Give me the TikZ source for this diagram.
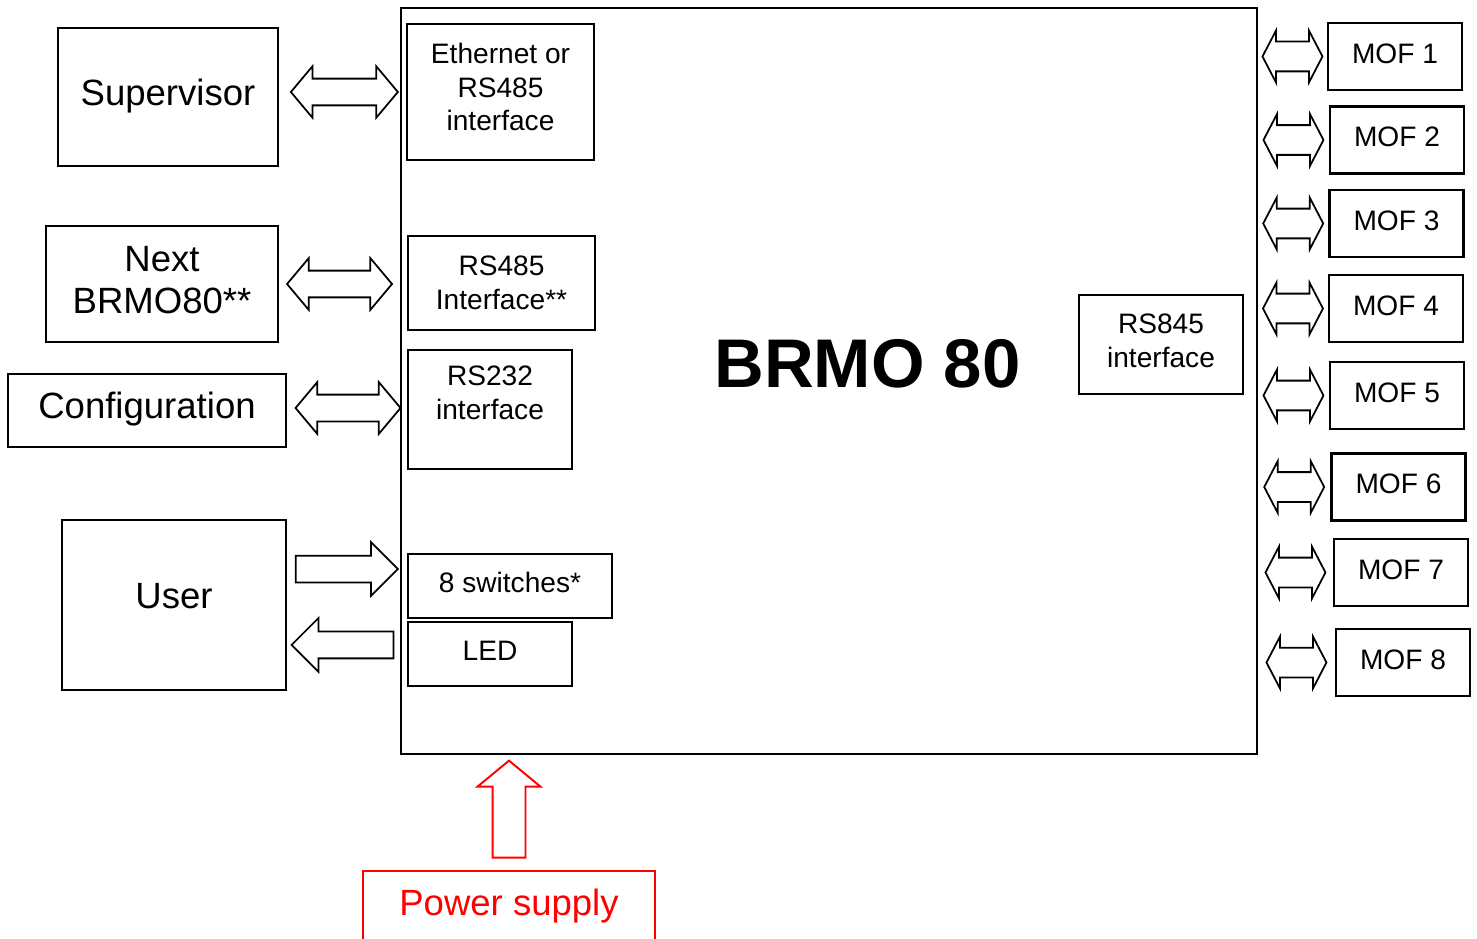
\documentclass[tikz,border=0pt]{standalone}
\usepackage{fontspec}
\setmainfont{Liberation Sans}
\usetikzlibrary{positioning,calc,shapes.arrows}
\definecolor{PSred}{HTML}{FF0000}
\tikzset{
  box/.style={draw, line width=1.2pt, align=center, inner sep=0pt},
  bigfont/.style={font=\fontsize{20.8}{24}\selectfont},
  smallfont/.style={font=\fontsize{16}{19}\selectfont},
  oneline/.style={execute at begin node=\strut},
  mofbox/.style={box, smallfont, oneline, minimum width=2.68cm, minimum height=1.34cm},
  twoway/.style={double arrow, draw, fill=white, line width=1pt, inner xsep=0pt, inner ysep=0.25cm,
    double arrow head extend=0.25cm, double arrow tip angle=100, minimum height=2.1cm},
  twowaymof/.style={twoway, inner ysep=0.28cm, double arrow head extend=0.22cm,
    double arrow tip angle=125, minimum height=1.2cm},
  oneway/.style={single arrow, draw, fill=white, line width=1pt, inner xsep=0pt, inner ysep=0.25cm,
    single arrow head extend=0.27cm, minimum height=2.04cm},
  powerarrow/.style={single arrow, draw=PSred, line width=1.1pt, inner xsep=0pt, inner ysep=0.31cm,
    single arrow head extend=0.3cm, single arrow tip angle=101, minimum height=1.94cm, rotate=90}
}

\begin{document}
\begin{tikzpicture}[x=0.02cm, y=-0.02cm]
\useasboundingbox (0,0) rectangle (1477,939);
% main board
\node[box, minimum width=17.12cm, minimum height=14.92cm] (main) at (829,381) {};
\node[font=\fontsize{39.2}{46}\selectfont\bfseries] (title) at (867.5,364) {BRMO 80};
% interfaces on the board
\node[box, smallfont, text depth=5.6pt, minimum width=3.74cm, minimum height=2.72cm] (eth) at (500.5,92) {Ethernet or\\RS485\\interface};
\node[box, smallfont, minimum width=3.74cm, minimum height=1.88cm] (rsfour) at (501.5,283) {RS485\\Interface**};
\node[box, smallfont, minimum width=3.28cm, minimum height=2.38cm] (rstwo) at (490,409.5) {RS232\\interface\\~};
\node[box, smallfont, oneline, minimum width=4.08cm, minimum height=1.28cm] (sw) at (510,586) {8 switches*};
\node[box, smallfont, oneline, minimum width=3.28cm, minimum height=1.28cm] (led) at (490,654) {LED};
\node[box, smallfont, text depth=4.5pt, minimum width=3.28cm, minimum height=1.98cm] (rseight) at (1161,344.5) {RS845\\interface};
% outside world
\node[box, bigfont, oneline, minimum width=4.4cm, minimum height=2.76cm] (sup) at (168,97) {Supervisor};
\node[box, bigfont, text depth=4.5pt, minimum width=4.64cm, minimum height=2.32cm] (next) at (162,284) {Next\\BRMO80**};
\node[box, bigfont, oneline, minimum width=5.56cm, minimum height=1.46cm] (conf) at (147,410.5) {Configuration};
\node[box, bigfont, oneline, text depth=12.5pt, minimum width=4.48cm, minimum height=3.4cm] (user) at (174,605) {User};
\node[box, bigfont, oneline, draw=PSred, text=PSred, minimum width=5.84cm, minimum height=1.44cm] (pwr) at (509,907) {Power supply};
\foreach \i/\x/\y in {1/1395/56.5, 2/1397/140, 3/1396.5/223.5, 4/1396/308.5,
                      5/1397/395.5, 6/1398.5/487, 7/1401/572.5, 8/1403/662.5}
  \node[mofbox] (mof\i) at (\x,\y) {MOF \i};
% links
\path (sup.east) -- (sup.east -| main.west) node[twoway, pos=0.54, yshift=0.1cm, minimum height=2.14cm] (supio) {};
\path (next.east) -- (next.east -| main.west) node[twoway, midway] (nextio) {};
\path (conf.east) -- (conf.east -| main.west) node[twoway, pos=0.54, yshift=0.05cm] (confio) {};
\path (user.east) -- (user.east -| main.west) node[oneway, pos=0.47, yshift=0.72cm] (userin) {};
\path (user.east) -- (user.east -| main.west) node[oneway, pos=0.55, yshift=-0.8cm, rotate=180] (userout) {};
\foreach \i in {1,...,8}
  \path (mof\i.west -| main.east) -- (mof\i.west) node[twowaymof, midway] (mofio\i) {};
\path (pwr.north) -- (pwr.north |- main.south) node[powerarrow, pos=0.47] (pwrin) {};
\end{tikzpicture}
\end{document}
